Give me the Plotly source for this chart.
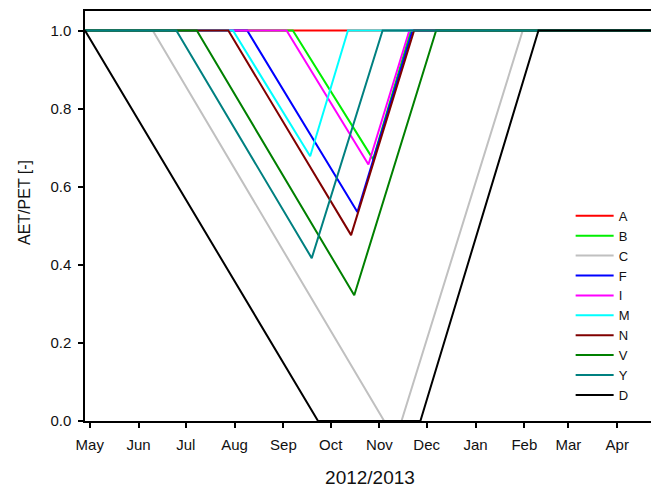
import plotly.graph_objects as go

# ---- data ----
series_names = ["A", "B", "C", "F", "I", "M", "N", "V", "Y", "D"]
series_colors = ["#FF0000", "#00EE00", "#C0C0C0", "#0000FF", "#FF00FF",
                 "#00FFFF", "#800000", "#008000", "#008080", "#000000"]

A_dates = ["2012-04-28", "2013-04-25"]
A_values = [1.0, 1.0]
B_dates = ["2012-04-28", "2012-09-07", "2012-10-28", "2012-11-21", "2013-04-25"]
B_values = [1.0, 1.0, 0.67, 1.0, 1.0]
C_dates = ["2012-04-28", "2012-06-10", "2012-11-04", "2012-11-15", "2013-01-31", "2013-04-25"]
C_values = [1.0, 1.0, 0.0, 0.0, 1.0, 1.0]
F_dates = ["2012-04-28", "2012-08-09", "2012-10-18", "2012-11-22", "2013-04-25"]
F_values = [1.0, 1.0, 0.535, 1.0, 1.0]
I_dates = ["2012-04-28", "2012-09-03", "2012-10-25", "2012-11-20", "2013-04-25"]
I_values = [1.0, 1.0, 0.657, 1.0, 1.0]
M_dates = ["2012-04-28", "2012-07-31", "2012-09-18", "2012-10-12", "2013-04-25"]
M_values = [1.0, 1.0, 0.678, 1.0, 1.0]
N_dates = ["2012-04-28", "2012-07-28", "2012-10-14", "2012-11-23", "2013-04-25"]
N_values = [1.0, 1.0, 0.476, 1.0, 1.0]
V_dates = ["2012-04-28", "2012-07-08", "2012-10-16", "2012-12-07", "2013-04-25"]
V_values = [1.0, 1.0, 0.322, 1.0, 1.0]
Y_dates = ["2012-04-28", "2012-06-25", "2012-09-19", "2012-11-03", "2013-04-25"]
Y_values = [1.0, 1.0, 0.417, 1.0, 1.0]
D_dates = ["2012-04-28", "2012-09-23", "2012-11-27", "2013-02-10", "2013-04-25"]
D_values = [1.0, 0.0, 0.0, 1.0, 1.0]

month_ticks = ["2012-05-01", "2012-06-01", "2012-07-01", "2012-08-01", "2012-09-01",
               "2012-10-01", "2012-11-01", "2012-12-01", "2013-01-01", "2013-02-01",
               "2013-03-01", "2013-04-01"]
month_labels = ["May", "Jun", "Jul", "Aug", "Sep", "Oct", "Nov", "Dec",
                "Jan", "Feb", "Mar", "Apr"]
y_ticks = [0.0, 0.2, 0.4, 0.6, 0.8, 1.0]
y_labels = ["0.0", "0.2", "0.4", "0.6", "0.8", "1.0"]

all_dates = [A_dates, B_dates, C_dates, F_dates, I_dates,
             M_dates, N_dates, V_dates, Y_dates, D_dates]
all_values = [A_values, B_values, C_values, F_values, I_values,
              M_values, N_values, V_values, Y_values, D_values]

FONT = "Liberation Sans, Arial, sans-serif"

fig = go.Figure()
for name, color, xs, ys in zip(series_names, series_colors, all_dates, all_values):
    fig.add_trace(go.Scatter(x=xs, y=ys, mode="lines", name=name,
                             line=dict(color=color, width=2)))

# the page body adds an 8px offset; the figure size/margins compensate for it
fig.update_layout(
    width=651, height=480,
    margin=dict(l=77, r=4, t=3, b=67),
    plot_bgcolor="white", paper_bgcolor="white",
    font=dict(family=FONT, color="#111111", size=15),
    showlegend=True,
    legend=dict(x=0.852, y=0.537, xanchor="left", yanchor="top",
                bgcolor="rgba(0,0,0,0)", borderwidth=0, itemwidth=38,
                font=dict(family=FONT, size=13, color="#111111"),
                tracegroupgap=0),
    xaxis=dict(type="date", range=["2012-04-28", "2013-04-25"],
               tickvals=month_ticks, ticktext=month_labels,
               ticks="outside", ticklen=5, tickwidth=1.5, tickcolor="black",
               showline=True, linecolor="black", linewidth=1.5, mirror=True,
               showgrid=False, zeroline=False, automargin=False,
               ticklabelstandoff=4,
               tickfont=dict(family=FONT, size=15, color="#111111"),
               title=dict(text="2012/2013", font=dict(family=FONT, size=19, color="#111111"),
                          standoff=21)),
    yaxis=dict(range=[0, 1.05], tickvals=y_ticks, ticktext=y_labels,
               ticks="outside", ticklen=5, tickwidth=1.5, tickcolor="black",
               showline=True, linecolor="black", linewidth=1.5, mirror=True,
               showgrid=False, zeroline=False, automargin=False,
               ticklabelstandoff=4,
               tickfont=dict(family=FONT, size=15, color="#111111")),
    annotations=[dict(text="AET/PET [-]", textangle=-90, showarrow=False,
                      xref="paper", yref="paper", x=-0.105, y=0.532,
                      xanchor="center", yanchor="middle",
                      font=dict(family=FONT, size=16, color="#111111"))],
)

fig.write_html("out.html")
